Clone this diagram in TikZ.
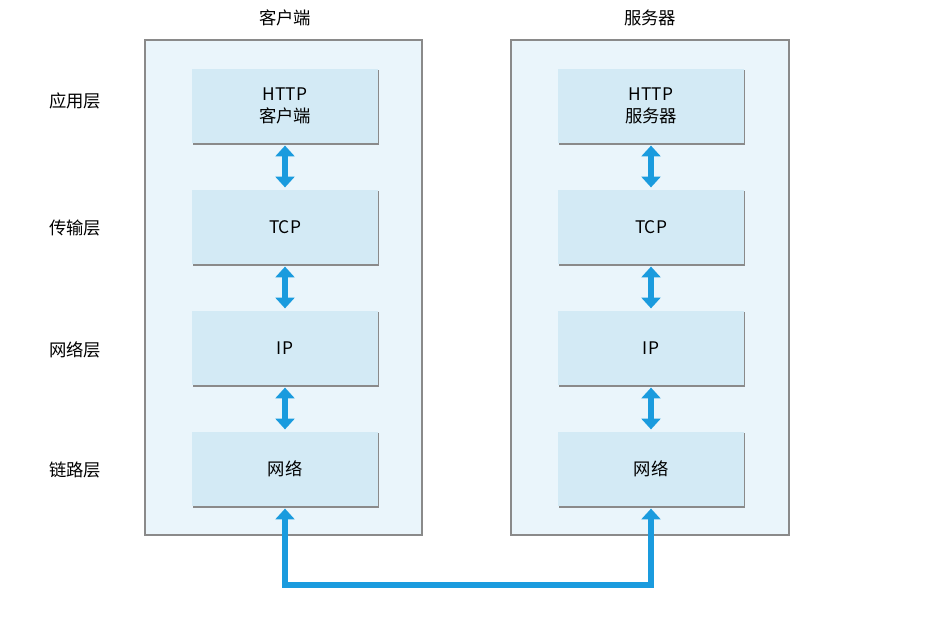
\documentclass[tikz,border=0pt]{standalone}
\usepackage{fontspec}
\setmainfont{Liberation Sans}
\newfontfamily\cjk{Noto Sans CJK SC}
\usetikzlibrary{arrows.meta}
\definecolor{outerfill}{HTML}{EAF5FB}
\definecolor{innerfill}{HTML}{D3EAF5}
\definecolor{arrblue}{HTML}{1A9BDE}
\definecolor{edge}{HTML}{8A8A8A}
\begin{document}
\begin{tikzpicture}[x=0.75pt,y=-0.75pt,
 outerbox/.style={draw=edge,line width=0.8pt,fill=outerfill},
 layerbox/.style={fill=innerfill,minimum width=139pt,minimum height=55pt,inner sep=0pt,align=center,font=\cjk\fontsize{13}{16}\selectfont},
 lbl/.style={font=\cjk\fontsize{13}{16}\selectfont},
 dbl/.style={arrblue,line width=4.5pt,{Triangle[length=8pt,width=14pt]}-{Triangle[length=8pt,width=14pt]}},
 single/.style={arrblue,line width=4pt,-{Triangle[length=8pt,width=14pt]}}]
\useasboundingbox (0,0) rectangle (939,622);
\fill[white] (0,0) rectangle (939,622);
\draw[outerbox] (145,40) rectangle (422,535);
\draw[outerbox] (511,40) rectangle (789,535);
\node[lbl] (t1) at (285,18) {客户端};
\node[lbl] (t2) at (650,18) {服务器};
\node[lbl] (l1) at (75,101) {应用层};
\node[lbl] (l2) at (75,228) {传输层};
\node[lbl] (l3) at (75,350) {网络层};
\node[lbl] (l4) at (75,470) {链路层};
\foreach \s/\x/\a in {c/285/客户端,s/651/服务器}{
 \foreach \n/\y/\t in {1/106/{HTTP\\\a},2/227/TCP,3/348/IP,4/469/网络}{
  \draw[edge,line width=2.5pt] (\x+92,\y-36)--(\x+92,\y+37)--(\x-92,\y+37);
  \node[layerbox] (\s\n) at (\x,\y) {\t};
 }
 \draw[dbl] ([yshift=-2pt]\s1.south) -- ([yshift=2pt]\s2.north);
 \draw[dbl] ([yshift=-2pt]\s2.south) -- ([yshift=2pt]\s3.north);
 \draw[dbl] ([yshift=-2pt]\s3.south) -- ([yshift=2pt]\s4.north);
}
\coordinate (b1) at (285,585);
\coordinate (b2) at (651,585);
\draw[arrblue,line width=4pt,{Triangle[length=8pt,width=14pt]}-{Triangle[length=8pt,width=14pt]}] ([yshift=-2pt]c4.south) -- (b1) -- (b2) -- ([yshift=-2pt]s4.south);
\end{tikzpicture}
\end{document}
